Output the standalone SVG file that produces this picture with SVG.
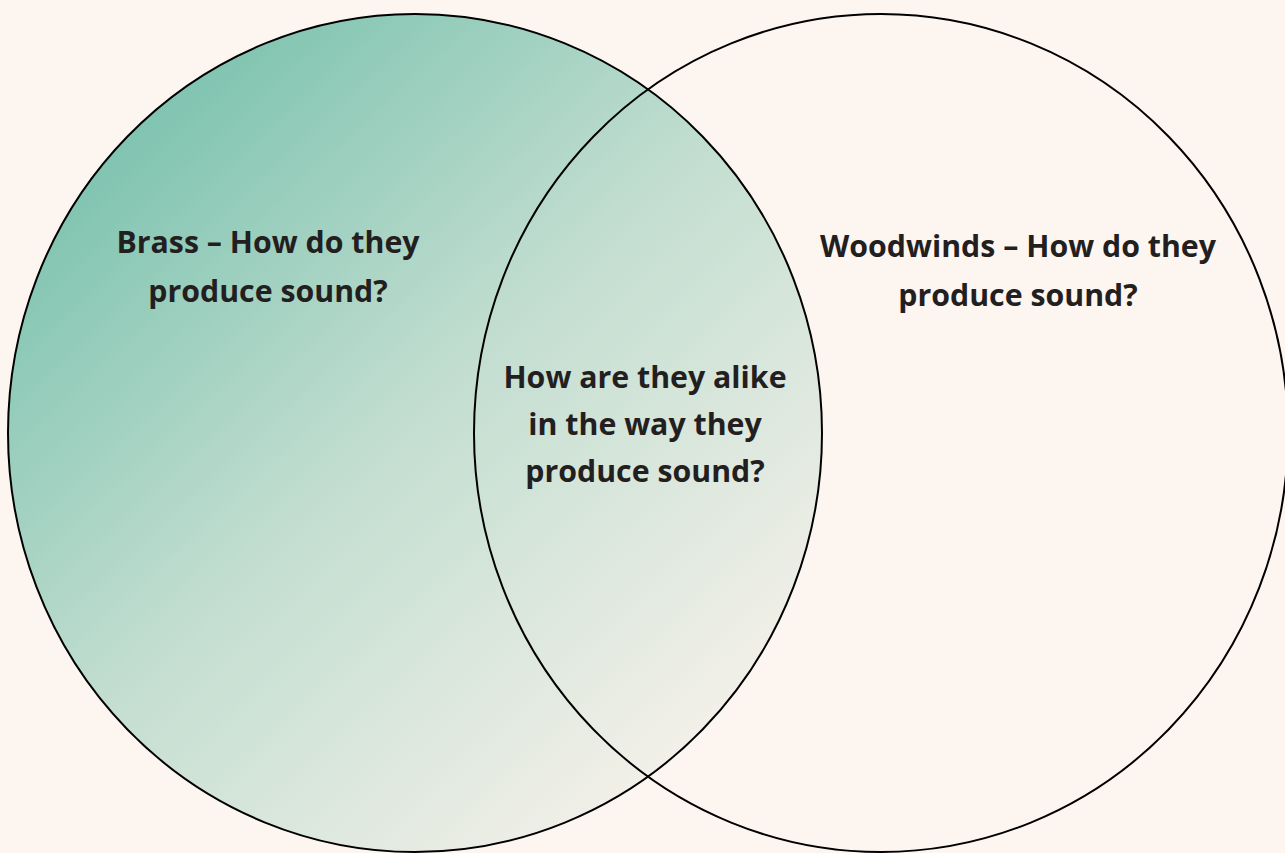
<svg xmlns="http://www.w3.org/2000/svg" width="1285" height="853" viewBox="0 0 1285 853">
<style>
.lbl{font-family:"Open Sans","Noto Sans","Liberation Sans",sans-serif;font-weight:bold;font-size:30.3px;fill:#231f20;text-anchor:middle}
.ring{stroke:#000;stroke-width:2}
</style>
<defs>
<linearGradient id="g" x1="0.12" y1="0.12" x2="0.82" y2="0.9">
<stop offset="0" stop-color="#7bc2ae"/>
<stop offset="0.5" stop-color="#c3ded1"/>
<stop offset="1" stop-color="#f3f0e8"/>
</linearGradient>
</defs>
<rect width="1285" height="853" fill="#fdf5f0"/>
<g id="brass">
<ellipse class="ring" cx="415" cy="433" rx="407" ry="419" fill="url(#g)"/>
<text class="lbl" x="268" y="253">Brass – How do they</text>
<text class="lbl" x="268" y="302">produce sound?</text>
</g>
<g id="woodwinds">
<ellipse class="ring" cx="881" cy="433" rx="407" ry="419" fill="none"/>
<text class="lbl" x="1018" y="257">Woodwinds – How do they</text>
<text class="lbl" x="1018" y="306">produce sound?</text>
</g>
<g id="alike">
<text class="lbl" x="645" y="388">How are they alike</text>
<text class="lbl" x="645" y="435">in the way they</text>
<text class="lbl" x="645" y="482">produce sound?</text>
</g>
<g id="connectors"/>
</svg>
